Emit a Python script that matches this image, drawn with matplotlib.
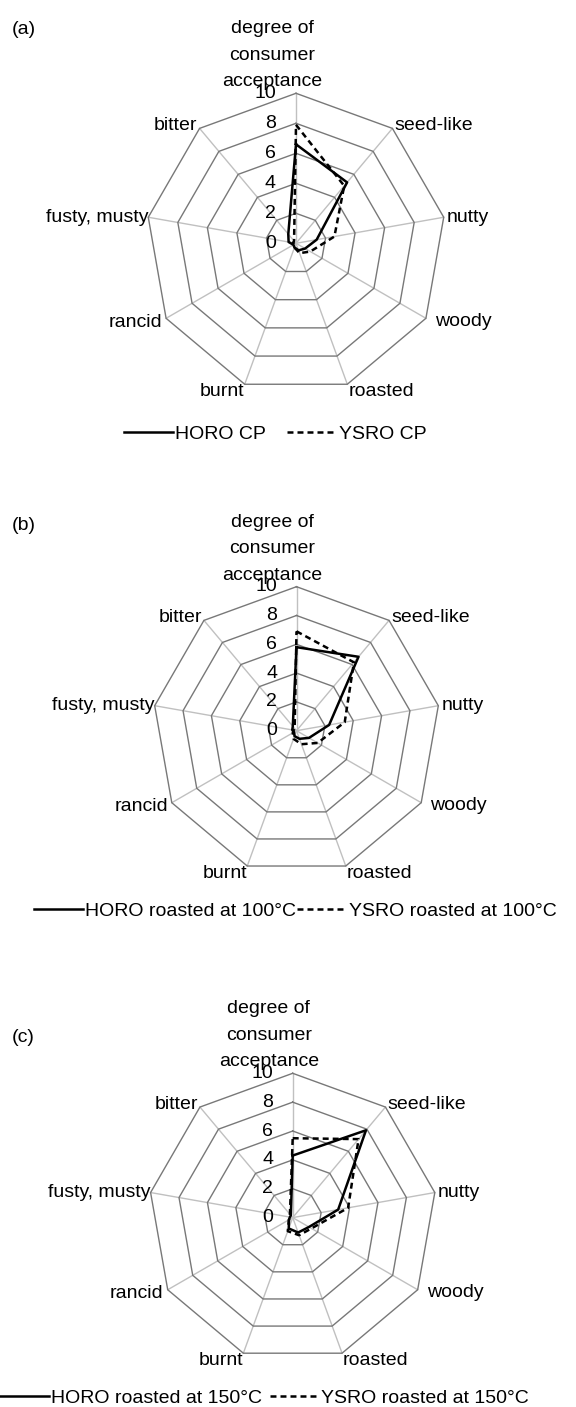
import numpy as np
import matplotlib.pyplot as plt

plt.rcParams['font.family'] = ['Liberation Sans', 'DejaVu Sans']
plt.rcParams['lines.scale_dashes'] = False

# axes of the radar, clockwise from the top
categories = ['degree of\nconsumer\nacceptance', 'seed-like', 'nutty', 'woody',
              'roasted', 'burnt', 'rancid', 'fusty, musty', 'bitter']
ticks = [0, 2, 4, 6, 8, 10]

# (a) cold pressed
horo_cp = [6.6, 5.3, 1.4, 0.7, 0.5, 0.3, 0.2, 0.5, 0.8]
ysro_cp = [7.9, 5.0, 2.6, 1.1, 0.7, 0.3, 0.1, 0.2, 0.2]
# (b) roasted at 100 C
horo_100 = [5.8, 6.7, 2.3, 1.0, 0.6, 0.4, 0.2, 0.3, 0.4]
ysro_100 = [6.9, 6.2, 3.4, 1.7, 1.0, 0.6, 0.3, 0.2, 0.2]
# (c) roasted at 150 C
horo_150 = [4.3, 7.9, 3.2, 1.3, 1.1, 0.8, 0.3, 0.2, 0.2]
ysro_150 = [5.5, 7.1, 3.9, 1.5, 1.3, 1.0, 0.3, 0.2, 0.3]

labels_a = ['HORO CP', 'YSRO CP']
labels_b = ['HORO roasted at 100°C', 'YSRO roasted at 100°C']
labels_c = ['HORO roasted at 150°C', 'YSRO roasted at 150°C']

W, H = 576, 1407
FS = 14
fig = plt.figure(figsize=(W / 100, H / 100), dpi=100)

n = len(categories)
theta = 2 * np.pi * np.arange(n) / n

# pixel offsets of the category labels from their vertex (x right, y down)
label_off = [(0, 0), (2, -3), (3, 0), (9, 3), (1, 7), (0, 7), (-4, 4), (0, 0), (-2, -3)]


def xy(vals):
    v = np.asarray(vals, dtype=float)
    x = v * np.sin(theta)
    y = v * np.cos(theta)
    return np.append(x, x[0]), np.append(y, y[0])


def radar(tag, cx, cy, R, s1, s2, names, leg_x, leg_y, colsp):
    L = 10.6
    s = R / 10.0
    ax = fig.add_axes([(cx - L * s) / W, (H - cy - L * s) / H, 2 * L * s / W, 2 * L * s / H])
    ax.set_xlim(-L, L)
    ax.set_ylim(-L, L)
    ax.axis('off')

    for i in range(n):
        ax.plot([0, 10 * np.sin(theta[i])], [0, 10 * np.cos(theta[i])],
                color='#c0c0c0', lw=1.0, zorder=1)
    for t in ticks[1:]:
        gx, gy = xy([t] * n)
        ax.plot(gx, gy, color='#787878', lw=1.0, zorder=2)

    for t in ticks:
        ax.text(-1.35, t, str(t), ha='right', va='center', fontsize=FS, zorder=5)

    for i, c in enumerate(categories):
        vx, vy = 10 * np.sin(theta[i]), 10 * np.cos(theta[i])
        dx, dy = label_off[i]
        if i == 0:
            ax.text(-24 / s, 10 + 38 / s, c, ha='center', va='center', fontsize=FS,
                    linespacing=1.72, multialignment='center')
            continue
        ha = 'left' if vx > 0 else 'right'
        ax.text(vx + dx / s, vy - dy / s, c, ha=ha, va='center', fontsize=FS)

    hx, hy = xy(s1)
    l1, = ax.plot(hx, hy, color='black', lw=1.8, zorder=4)
    yx, yy = xy(s2)
    l2, = ax.plot(yx, yy, color='black', lw=1.8, ls=(0, (4.3, 2.9)), zorder=4)

    fig.legend([l1, l2], names, loc='center', bbox_to_anchor=(leg_x / W, 1 - leg_y / H),
               ncol=2, frameon=False, fontsize=FS, handlelength=2.55,
               handletextpad=0.1, columnspacing=colsp, borderpad=0)
    fig.text(12 / W, 1 - tag[1] / H, tag[0], ha='left', va='center', fontsize=FS)


radar(('(a)', 30), 296, 243.3, 150, horo_cp, ysro_cp, labels_a, 275, 434, 1.1)
radar(('(b)', 525), 296.5, 730.7, 144, horo_100, ysro_100, labels_b, 295, 911, 0.05)
radar(('(c)', 1038), 292.7, 1217.6, 144.3, horo_150, ysro_150, labels_c, 264, 1398, 0.4)

fig.savefig('out.png', dpi=100, facecolor='white')
